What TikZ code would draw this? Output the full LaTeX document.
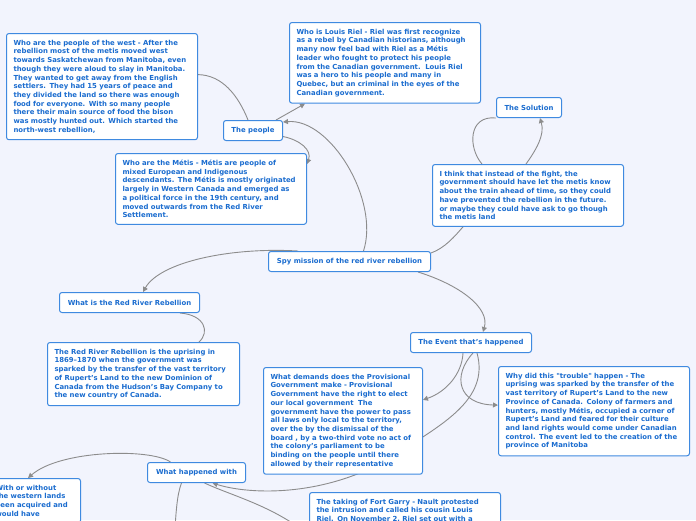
\documentclass[tikz,border=0pt]{standalone}
\usepackage{fontspec}
\setmainfont{DejaVu Sans}
\usetikzlibrary{arrows.meta}

\definecolor{bgcol}{HTML}{F2F4FD}
\definecolor{framecol}{HTML}{3F8AE0}
\definecolor{inkcol}{HTML}{1A6CCF}
\definecolor{linkcol}{HTML}{8C8C8C}

\pgfdeclarelayer{bg}
\pgfdeclarelayer{links}
\pgfsetlayers{bg,links,main}

\begin{document}
\begin{tikzpicture}[x=1pt, y=-1pt,
        topic/.style={draw=framecol, fill=white, rounded corners=2.5pt, line width=1pt,
          text=inkcol, font=\fontsize{6.9}{8.7}\selectfont\bfseries,
          anchor=north west, inner sep=0pt, minimum height=20pt},
        note/.style={topic, align=left, minimum height=0pt, inner xsep=7pt, inner ysep=6.5pt},
        link/.style={draw=linkcol, line width=0.9pt},
        >={Triangle[length=5pt,width=5pt]}
        ]
        \useasboundingbox (0,0) rectangle (696,520);
        \begin{pgfonlayer}{bg}
          \fill[bgcol] (0,0) rectangle (696,520);
        \end{pgfonlayer}

        % main topic
        \node[topic, minimum width=162pt] (spy) at (268,251) {Spy mission of the red river rebellion};

        % the people branch
        \node[topic, minimum width=59pt] (people) at (223,120) {The people};
        \node[note, text width=177pt] (west) at (6,33) {Who are the people of the west - After the\\
          rebellion most of the metis moved west\\
          towards Saskatchewan from Manitoba, even\\
          though they were aloud to slay in Manitoba.\\
          They wanted to get away from the English\\
          settlers. They had 15 years of peace and\\
          they divided the land so there was enough\\
          food for everyone. With so many people\\
          there their main source of food the bison\\
          was mostly hunted out. Which started the\\
          north-west rebellion,};
        \node[note, text width=177pt] (riel) at (289,22) {Who is Louis Riel - Riel was first recognize\\
          as a rebel by Canadian historians, although\\
          many now feel bad with Riel as a Métis\\
          leader who fought to protect his people\\
          from the Canadian government.\ \ Louis Riel\\
          was a hero to his people and many in\\
          Quebec, but an criminal in the eyes of the\\
          Canadian government.};
        \node[note, text width=177pt] (metis) at (115,153) {Who are the Métis - Métis are people of\\
          mixed European and Indigenous\\
          descendants. The Métis is mostly originated\\
          largely in Western Canada and emerged as\\
          a political force in the 19th century, and\\
          moved outwards from the Red River\\
          Settlement.};

        % the solution branch
        \node[topic, minimum width=65pt] (solution) at (496,97) {The Solution};
        \node[note, text width=177pt] (think) at (432,164) {I think that instead of the fight, the\\
          government should have let the metis know\\
          about the train ahead of time, so they could\\
          have prevented the rebellion in the future.\\
          or maybe they could have ask to go though\\
          the metis land};

        % red river branch
        \node[topic, minimum width=140pt] (redriver) at (59,292) {What is the Red River Rebellion};
        \node[note, text width=178pt] (rrdesc) at (47,342) {The Red River Rebellion is the uprising in\\
          1869--1870 when the government was\\
          sparked by the transfer of the vast territory\\
          of Rupert’s Land to the new Dominion of\\
          Canada from the Hudson’s Bay Company to\\
          the new country of Canada.};

        % event branch
        \node[topic, minimum width=121pt] (event) at (410,332) {The Event that's happened};
        \node[note, text width=145pt] (demands) at (263,367) {What demands does the Provisional\\
          Government make - Provisional\\
          Government have the right to elect\\
          our local government\ \ The\\
          government have the power to pass\\
          all laws only local to the territory,\\
          over the by the dismissal of the\\
          board , by a two-third vote no act of\\
          the colony's parliament to be\\
          binding on the people until there\\
          allowed by their representative};
        \node[note, text width=177pt] (why) at (498,366) {Why did this \textquotedbl trouble\textquotedbl\ happen - The\\
          uprising was sparked by the transfer of the\\
          vast territory of Rupert’s Land to the new\\
          Province of Canada. Colony of farmers and\\
          hunters, mostly Métis, occupied a corner of\\
          Rupert’s Land and feared for their culture\\
          and land rights would come under Canadian\\
          control. The event led to the creation of the\\
          province of Manitoba};
        \node[topic, minimum width=98pt] (happened) at (147,462) {What happened with};
        \node[note, text width=78pt] (without) at (-12,478) {With or without\\
          the western lands\\
          been acquired and\\
          would have};
        \node[note, text width=177pt] (garry) at (309,492) {The taking of Fort Garry - Nault protested\\
          the intrusion and called his cousin Louis\\
          Riel. On November 2, Riel set out with a};

        \coordinate (offA) at (174,545);
        \coordinate (offB) at (305,532);

        \begin{pgfonlayer}{links}
          \draw[link, ->] ([xshift=14pt]spy.north) .. controls (380,200) and (330,118) .. ([yshift=-2pt]people.north east);
          \draw[link] ([xshift=-5pt]people.north) .. controls (238,95) and (222,75) .. ([yshift=12pt]west.east);
          \draw[link, ->] ([xshift=-7pt]people.north east) -- ([xshift=16pt]riel.south west);
          \draw[link, ->] ([yshift=-6pt]people.east) .. controls (300,140) and (312,150) .. ([yshift=-11pt]metis.north east);

          \draw[link] (solution.south west) .. controls (468,115) and (468,148) .. ([xshift=50pt]think.north west);
          \draw[link, ->] ([xshift=94pt]think.north west) .. controls (536,150) and (545,135) .. ([xshift=44pt]solution.south west);
          \draw[link] ([yshift=-2pt]spy.north east) .. controls (445,248) and (455,236) .. ([xshift=31pt]think.south west);

          \draw[link, ->] ([xshift=30pt]spy.north west) .. controls (230,247) and (160,262) .. ([xshift=84pt]redriver.north west);
          \draw[link] ([xshift=-20pt]redriver.south east) .. controls (205,315) and (210,332) .. ([xshift=-41pt]rrdesc.north east);

          \draw[link, ->] ([xshift=-13pt]spy.south east) .. controls (460,285) and (490,308) .. ([xshift=73pt]event.north west);
          \draw[link, ->] ([xshift=-8pt]event.south) .. controls (462,374) and (446,392) .. ([yshift=21pt]demands.east);
          \draw[link, ->] ([xshift=2pt]event.south) .. controls (452,376) and (458,404) .. ([yshift=6pt]why.west);
          \draw[link, ->] ([xshift=6pt]event.south) .. controls (490,400) and (440,425) .. (400,452)
            .. controls (330,498) and (250,495) .. ([xshift=16pt]happened.south);

          \draw[link, ->] ([xshift=-26pt]happened.north) .. controls (150,448) and (60,450) .. ([xshift=40pt]without.north west);
          \draw[link] ([xshift=-15pt]happened.south) .. controls (177,495) and (176,510) .. (offA);
          \draw[link] ([xshift=8pt]happened.south) .. controls (230,495) and (270,505) .. (offB);
        \end{pgfonlayer}
      \end{tikzpicture}
\end{document}
